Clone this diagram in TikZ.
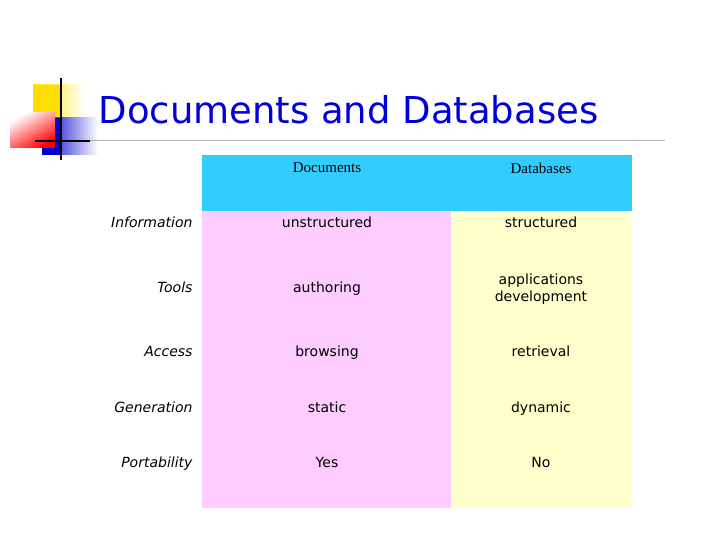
\documentclass[tikz,border=0pt]{standalone}
\usepackage{fontspec}
\setmainfont{DejaVu Sans}
\newfontfamily\serifx{Liberation Serif}
\definecolor{hdrc}{HTML}{33CCFF}
\definecolor{pinkc}{HTML}{FFCCFF}
\definecolor{yelc}{HTML}{FFFFCC}
\begin{document}
\begin{tikzpicture}[x=1pt,y=-1pt,
  cell/.style={font=\fontsize{14}{17}\selectfont, align=center, text height=10pt, text depth=3pt},
  rowlab/.style={font=\fontsize{14}{17}\selectfont\itshape, anchor=east, text height=10pt, text depth=3pt},
  hdr/.style={font=\fontsize{15}{18}\selectfont\serifx}]
\useasboundingbox[fill=white] (0,0) rectangle (720,540);
% logo
\shade[left color=yellow!80!orange, right color=white] (33,85) rectangle (85,118);
\fill[yellow!80!orange] (33,85) rectangle (60,118);
\shade[left color=blue!80!black, right color=white] (42,118) rectangle (98,155);
\fill[blue!80!black] (42,118) rectangle (62,155);
\shade[left color=white, right color=red, shading angle=30] (10,113) rectangle (55,148);
\draw[line width=2pt] (61,78) -- (61,160);
\draw[line width=2pt] (35,141) -- (90,141);
\draw[gray!60, line width=1pt] (90,141) -- (665,141);
\node[anchor=west, text=blue!85!black, font=\fontsize{37}{44}\selectfont] (title) at (95,110) {Documents and Databases};
% table
\fill[hdrc] (202,155) rectangle (632,211);
\fill[pinkc] (202,211) rectangle (451,508);
\fill[yelc] (451,211) rectangle (632,508);
\node[hdr] (h1) at (327,168) {Documents};
\node[hdr] (h2) at (541,168) {Databases};
\node[rowlab] (r1) at (196,224) {Information};
\node[cell] (a1) at (327,224) {unstructured};
\node[cell] (b1) at (541,224) {structured};
\node[rowlab] (r2) at (196,289) {Tools};
\node[cell] (a2) at (327,289) {authoring};
\node[cell, text height=, text depth=] (b2) at (541,289) {applications\\development};
\node[rowlab] (r3) at (196,353) {Access};
\node[cell] (a3) at (327,353) {browsing};
\node[cell] (b3) at (541,353) {retrieval};
\node[rowlab] (r4) at (196,409) {Generation};
\node[cell] (a4) at (327,409) {static};
\node[cell] (b4) at (541,409) {dynamic};
\node[rowlab] (r5) at (196,464) {Portability};
\node[cell] (a5) at (327,464) {Yes};
\node[cell] (b5) at (541,464) {No};
\end{tikzpicture}
\end{document}
